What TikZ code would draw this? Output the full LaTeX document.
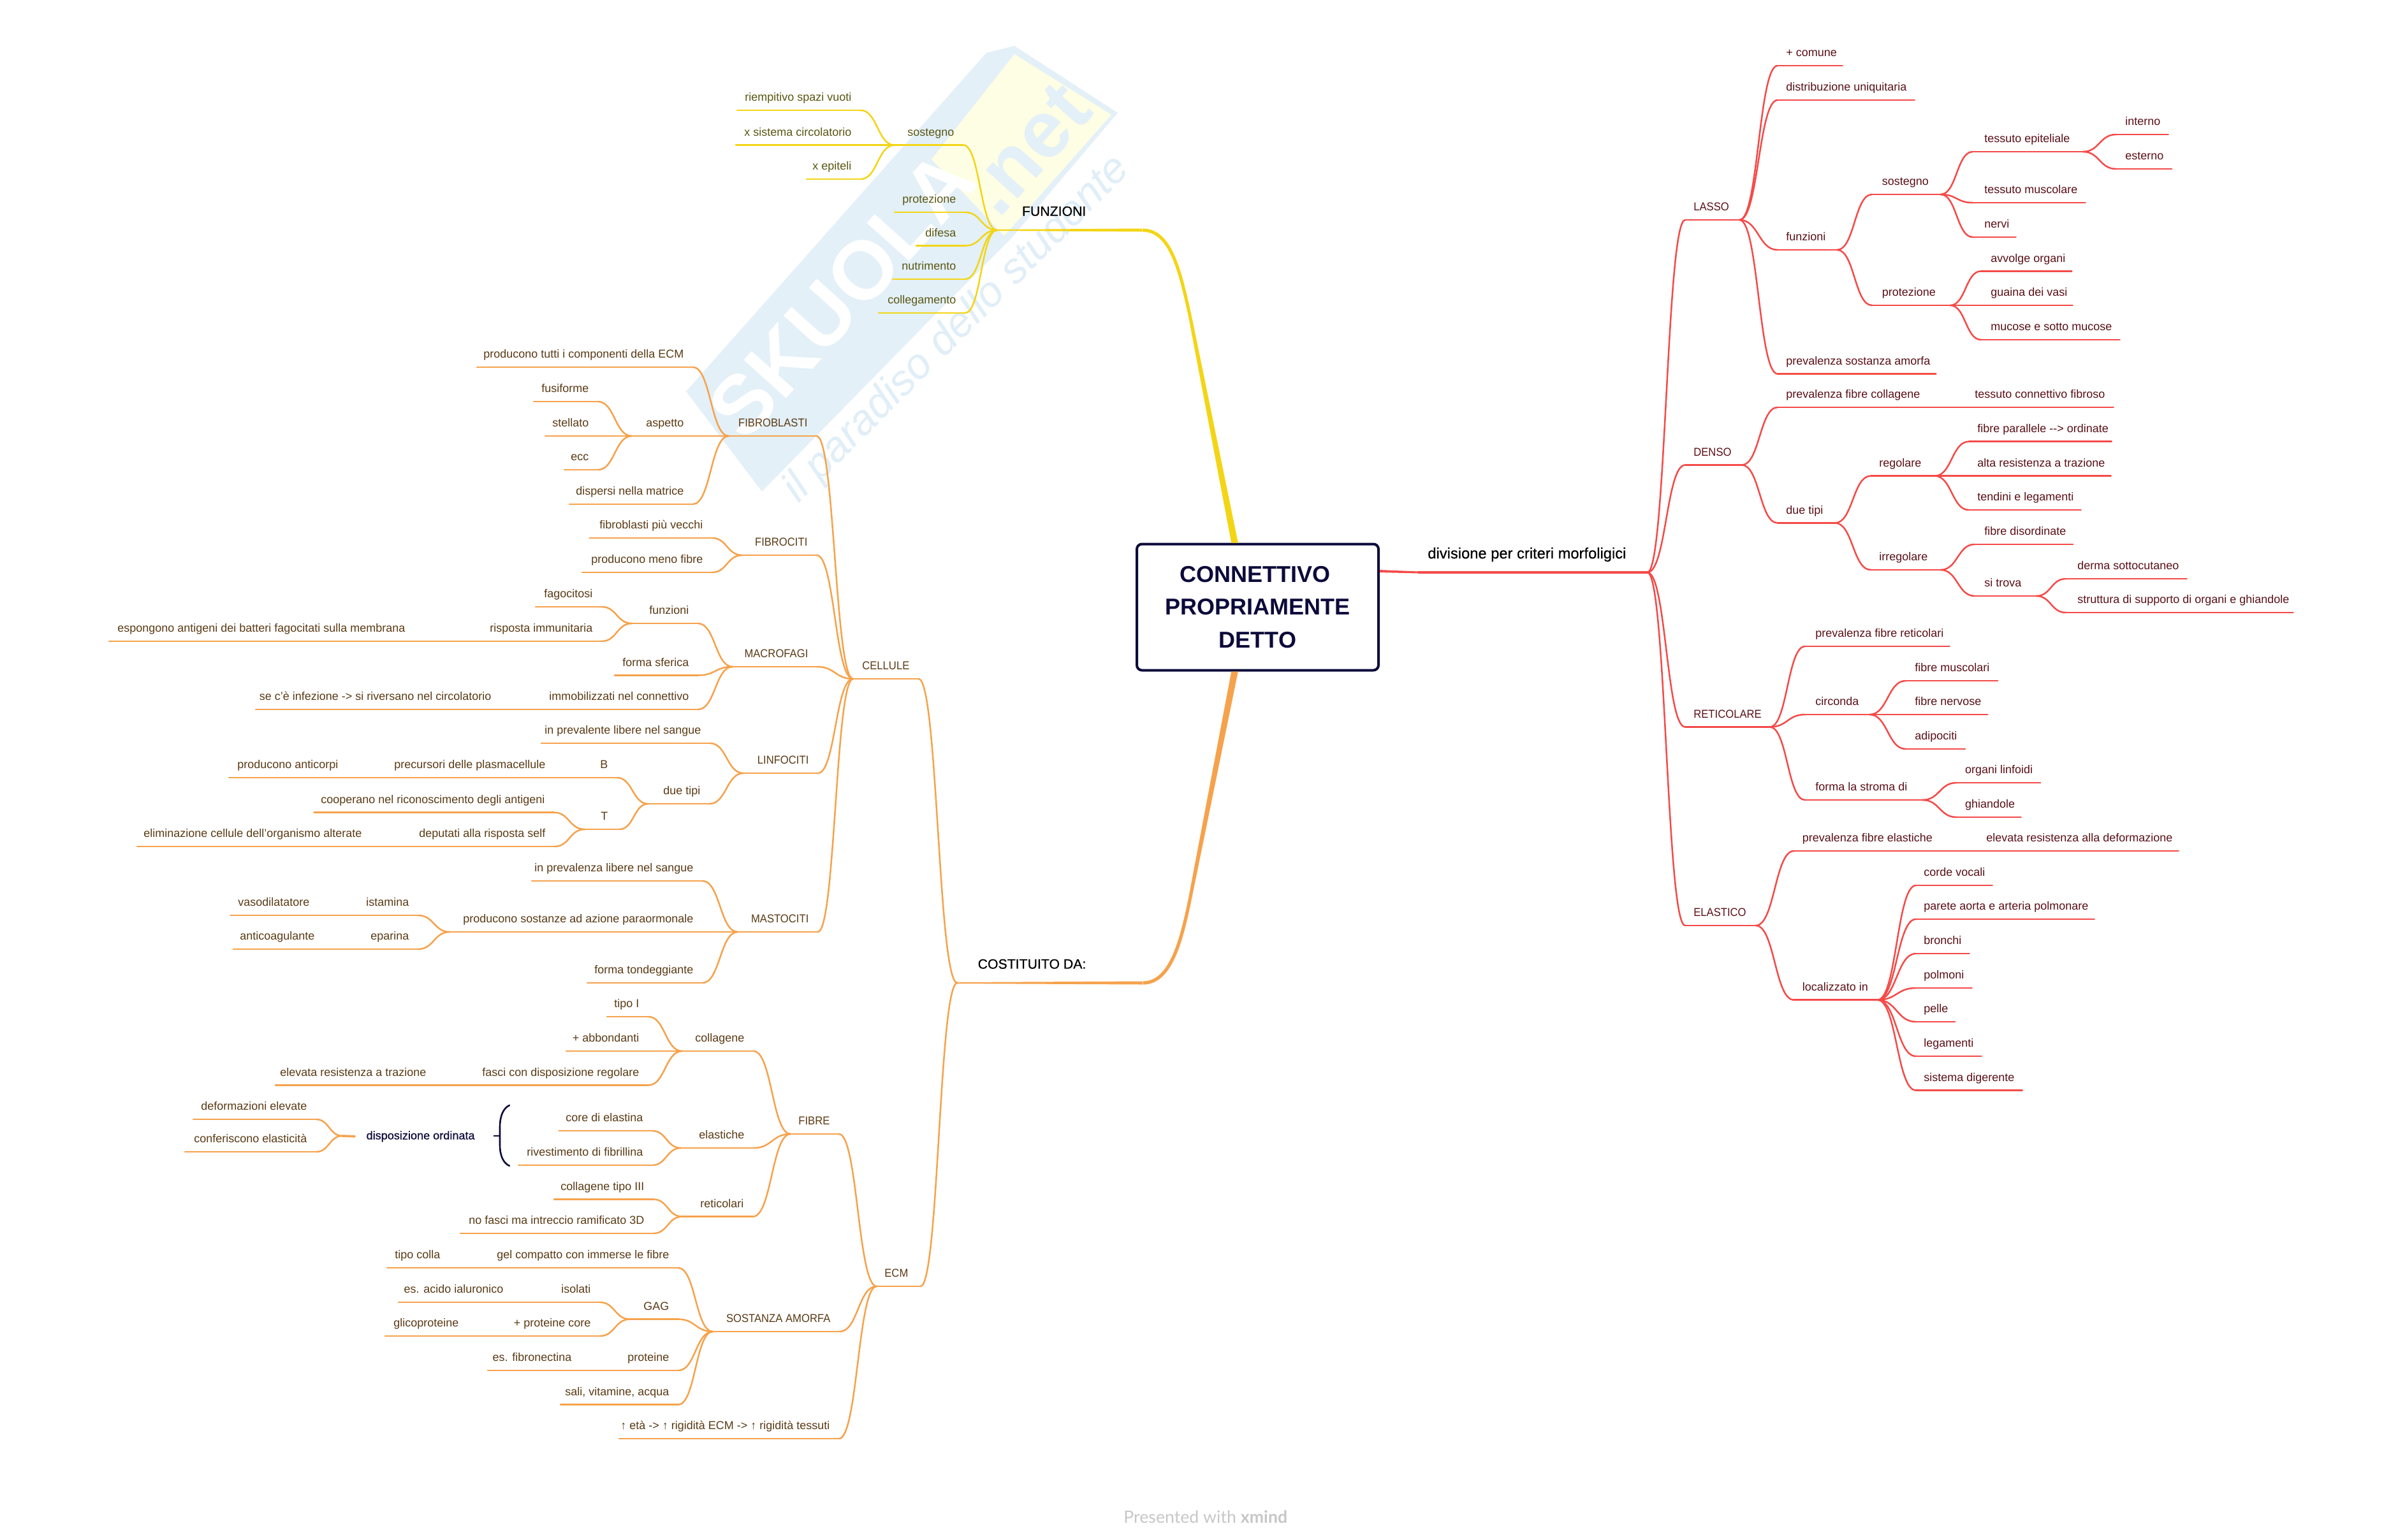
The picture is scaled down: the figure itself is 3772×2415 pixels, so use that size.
\documentclass[tikz,border=0pt]{standalone}
\usepackage{fontspec}
\setmainfont{Liberation Sans}
\newfontfamily\capf[FakeStretch=0.925]{Liberation Sans}
\newfontfamily\medf[FakeBold=0.5]{Liberation Sans}
\newfontfamily\presf{Lato}
\usetikzlibrary{calc}
\definecolor{ylw}{HTML}{F3D516}
\definecolor{ytx}{HTML}{5A5612}
\definecolor{org}{HTML}{F6A24C}
\definecolor{otx}{HTML}{5A3A14}
\definecolor{rdd}{HTML}{F44A48}
\definecolor{rtx}{HTML}{5A0F16}
\definecolor{navy}{HTML}{0C0A3A}
\definecolor{wmb}{HTML}{E3F0F8}
\definecolor{wmy}{HTML}{FEFEE4}
\definecolor{wmt}{HTML}{E0EEF7}
\colorlet{L}{black}\colorlet{T}{black}
\newlength\ux \setlength\ux{0.569pt}
\newlength\tw
\tikzset{
  topic/.style={inner sep=0pt,anchor=south west,text height=14\ux,text depth=14\ux,text=T,
    font=\fontsize{10.24}{12}\selectfont},
  conn/.style={draw=L,line width=2.5\ux,line cap=round},
  maintopic/.style={topic,text height=18\ux,text depth=22\ux,text=black,
    font=\fontsize{12.1}{14}\selectfont\medf},
}
% left-side topic: text right aligned, line from xL to xR at y
\newcommand\TL[6][14]{\pgfmathsetlength\tw{(#4-#3)*0.02cm}%
  \node[topic] (#2) at (#3,#5) {\makebox[\tw][r]{#6\hspace{#1\ux}}};
  \draw[conn] (#2.south west) -- (#2.south east);}
% right-side topic: text left aligned
\newcommand\TR[6][13]{\pgfmathsetlength\tw{(#4-#3)*0.02cm}%
  \node[topic] (#2) at (#3,#5) {\makebox[\tw][l]{\hspace{#1\ux}#6}};
  \draw[conn] (#2.south west) -- (#2.south east);}
\newcommand\link[2]{\draw[conn] let \p1=(#1),\p2=(#2),\n1={0.5*(\x2-\x1)} in
  (\p1) .. controls ({\x1+\n1},\y1) and ({\x2-\n1},\y2) .. (\p2);}
\newcommand\LL[2]{\foreach \cc in {#2} {\link{#1.south west}{\cc.south east}}}
\newcommand\LR[2]{\foreach \cc in {#2} {\link{#1.south east}{\cc.south west}}}
\begin{document}
\begin{tikzpicture}[x=0.02cm,y=-0.02cm]
\useasboundingbox (0,0) rectangle (3772,2415);
\fill[white] (0,0) rectangle (3772,2415);
% watermark
\fill[wmb] (1076,614) -- (1547,83) -- (1591,72) -- (1753,177) -- (1585,375) -- (1470,490) -- (1195,771) -- cycle;
\fill[wmy] (1591,85) -- (1743,180) -- (1575,370) -- (1461,250) -- cycle;
\node[rotate=48,text=white,font=\fontsize{74}{80}\selectfont\bfseries] (wm1) at (1320,462) {SKUOLA};
\node[rotate=48,text=wmb,font=\fontsize{72}{80}\selectfont\bfseries] (wm2) at (1612,234) {.net};
\node[rotate=45,text=wmt,font=\fontsize{38}{44}\selectfont\itshape] (wm3) at (1501,517) {il paradiso dello studente};
% root
\node[draw=navy,line width=4\ux,rounded corners=8\ux,fill=white,text=navy,minimum width=379*0.02cm,minimum height=198*0.02cm,
  align=center,font=\fontsize{20.5}{29.3}\selectfont\bfseries,inner sep=0pt] (root) at (1972.5,952.5) {CONNETTIVO\hspace*{8\ux}\\PROPRIAMENTE\hspace*{8\ux}\\DETTO};

% ===== yellow
\begin{scope}
\colorlet{L}{ylw}\colorlet{T}{ytx}
\node[maintopic] (funz) at (1564,361) {\pgfmathsetlength\tw{(1791-1564)*0.02cm}\makebox[\tw][r]{FUNZIONI\hspace{88\ux}}};
\fill[ylw] (1564,360) -- (1791,358.5) -- (1791,363.5) -- (1564,362) -- cycle;
\draw[conn,line width=5\ux,line cap=butt] (funz.south east) .. controls (1835,361) and (1850,420) .. (1867,499);
\fill[ylw] (1864.5,499.5) -- (1869.5,498.5) -- ([xshift=3pt]$(root.north)+(-36,0)$) -- ([xshift=-3pt]$(root.north)+(-36,0)$) -- cycle;
\TL{ysost}{1403}{1510}{227.6}{sostegno}
\TL{yprot}{1403}{1513}{333}{protezione}
\TL{ydife}{1437}{1513}{385.5}{difesa}
\TL{ynutr}{1400}{1513}{438}{nutrimento}
\TL{ycoll}{1378}{1513}{491}{collegamento}
\TL{yriem}{1156}{1349}{173}{riempitivo spazi vuoti}
\TL{ysist}{1154}{1349}{227.6}{x sistema circolatorio}
\TL{yepit}{1265}{1349}{281}{x epiteli}
\LL{funz}{ysost,yprot,ydife,ynutr,ycoll}
\LL{ysost}{yriem,ysist,yepit}
\end{scope}

% ===== orange
\begin{scope}
\colorlet{L}{org}\colorlet{T}{otx}
\node[maintopic] (cost) at (1501.5,1542) {\pgfmathsetlength\tw{(1792-1501.5)*0.02cm}\makebox[\tw][r]{COSTITUITO DA:\hspace{89\ux}}};
\fill[org] (1501.5,1541) -- (1792,1539.5) -- (1792,1544.5) -- (1501.5,1543) -- cycle;
\draw[conn,line width=5.2\ux,line cap=butt] (cost.south east) .. controls (1835,1542) and (1852,1480) .. (1866,1412);
\fill[org] (1863.5,1411.5) -- (1868.5,1412.5) -- ([xshift=3pt]$(root.south)+(-36,0)$) -- ([xshift=-3pt]$(root.south)+(-36,0)$) -- cycle;
\TL{cell}{1338}{1440}{1065}{\capf CELLULE}
\TL[19]{ecm}{1375}{1443}{2018}{\capf ECM}
\LL{cost}{cell,ecm}
% FIBROBLASTI
\TL{fbl}{1143}{1280}{684}{\capf FIBROBLASTI}
\TL{fb1}{748}{1086}{576}{producono tutti i componenti della ECM}
\TL{fb2}{991}{1086}{684}{aspetto}
\TL{fb3}{893}{1086}{791}{dispersi nella matrice}
\TL{fb21}{837}{937}{630}{fusiforme}
\TL{fb22}{855}{937}{684}{stellato}
\TL{fb23}{885}{937}{737}{ecc}
\LL{fbl}{fb1,fb2,fb3}
\LL{fb2}{fb21,fb22,fb23}
% FIBROCITI
\TL{fcy}{1164}{1280}{871}{\capf FIBROCITI}
\TL{fc1}{924.5}{1116}{844}{fibroblasti più vecchi}
\TL{fc2}{913}{1116}{898}{producono meno fibre}
\LL{fcy}{fc1,fc2}
% MACROFAGI
\TL{mac}{1149}{1281}{1046}{\capf MACROFAGI}
\TL{ma1}{991}{1094}{978}{funzioni}
\TL{ma2}{964}{1094}{1059.5}{forma sferica}
\TL{ma3}{784}{1094}{1113}{immobilizzati nel connettivo}
\TL{ma4}{401}{784}{1113}{se c'è infezione -> si riversano nel circolatorio}
\TL{ma11}{840}{943}{952}{fagocitosi}
\TL{ma12}{649}{943}{1006}{risposta immunitaria}
\TL{ma13}{171}{649}{1006}{espongono antigeni dei batteri fagocitati sulla membrana}
\LL{mac}{ma1,ma2,ma3}
\LL{ma3}{ma4}
\LL{ma1}{ma11,ma12}
\LL{ma12}{ma13}
% LINFOCITI
\TL{lin}{1166}{1282}{1213}{\capf LINFOCITI}
\TL{li1}{849}{1113}{1166}{in prevalente libere nel sangue}
\TL{li2}{1016.5}{1112}{1261}{due tipi}
\TL{liB}{869}{967}{1220}{B}
\TL{liB1}{544}{869}{1220}{precursori delle plasmacellule}
\TL{liB2}{359}{544}{1220}{producono anticorpi}
\TL[18]{liT}{917}{971}{1301}{T}
\TL{liT1}{492.5}{868}{1274.5}{cooperano nel riconoscimento degli antigeni}
\TL{liT2}{581}{869}{1328}{deputati alla risposta self}
\TL{liT3}{215}{581}{1328}{eliminazione cellule dell'organismo alterate}
\LL{lin}{li1,li2}
\LL{li2}{liB,liT}
\LL{liT}{liT1,liT2}
% MASTOCITI
\TL{mst}{1157}{1282}{1462}{\capf MASTOCITI}
\TL{ms1}{834}{1101}{1382}{in prevalenza libere nel sangue}
\TL{ms2}{705.5}{1101}{1462}{producono sostanze ad azione paraormonale}
\TL{ms3}{921}{1101}{1542}{forma tondeggiante}
\TL{ms21}{499}{655}{1436}{istamina}
\TL{ms22}{361.5}{499}{1436}{vasodilatatore}
\TL{ms23}{507}{655}{1489}{eparina}
\TL{ms24}{365.6}{507}{1489}{anticoagulante}
\LL{mst}{ms1,ms2,ms3}
\LL{ms2}{ms21,ms23}
\LL{cell}{fbl,fcy,mac,lin,mst}
% FIBRE
\TL{fib}{1240}{1315}{1779}{\capf FIBRE}
\TL{col}{1070}{1181}{1649}{collagene}
\TL{ela}{1068}{1181}{1801}{elastiche}
\TL{ret}{1070}{1180}{1908.6}{reticolari}
\TL{co1}{952}{1016}{1595}{tipo I}
\TL{co2}{888}{1016}{1649}{+ abbondanti}
\TL{co3}{682}{1016}{1702.5}{fasci con disposizione regolare}
\TL{co4}{432}{682}{1702.5}{elevata resistenza a trazione}
\TL{el1}{876.5}{1022}{1774}{core di elastina}
\TL{el2}{813}{1022}{1828}{rivestimento di fibrillina}
\TL{re1}{869}{1024}{1881.5}{collagene tipo III}
\TL{re2}{722}{1024}{1935}{no fasci ma intreccio ramificato 3D}
\LL{fib}{col,ela,ret}
\LL{col}{co1,co2,co3}
\LL{ela}{el1,el2}
\LL{ret}{re1,re2}
% disposizione ordinata
\node[inner xsep=18\ux,inner ysep=0pt,anchor=base east,text=navy,font=\fontsize{10.3}{12}\selectfont\medf] (disp) at (763,1787.5) {disposizione ordinata};
\coordinate (dispj) at (537,1782);
\draw[conn,line width=3.5\ux] (disp.west) -- (dispj);
\TL{di1}{303}{495}{1756}{deformazioni elevate}
\TL{di2}{290}{495}{1807}{conferiscono elasticità}
\link{dispj}{di1.south east}
\link{dispj}{di2.south east}
\draw[navy,line width=2.6\ux,line cap=round] (799,1734) .. controls (790,1738) and (784,1750) .. (784,1768) -- (784,1796) .. controls (784,1814) and (790,1825) .. (799,1829);
\draw[navy,line width=2.6\ux] (774,1782) -- (784,1782);
% SOSTANZA AMORFA
\TL{sos}{1118}{1316}{2089}{\capf SOSTANZA AMORFA}
\TL{so1}{704}{1063}{1989}{gel compatto con immerse le fibre}
\TL{so1a}{607}{704}{1989}{tipo colla}
\TL{gag}{988}{1063}{2069.6}{GAG}
\TL{is}{803}{940}{2043}{isolati}
\TL{isa}{625}{803}{2043}{es. acido ialuronico}
\TL{pc}{733}{940}{2096}{+ proteine core}
\TL{pca}{604}{733}{2096}{glicoproteine}
\TL{pr}{910}{1063}{2150}{proteine}
\TL{pra}{765}{910}{2150}{es. fibronectina}
\TL{sa}{879}{1063}{2203.6}{sali, vitamine, acqua}
\TL{eta}{971}{1315}{2257}{↑ età -> ↑ rigidità ECM -> ↑ rigidità tessuti}
\LL{sos}{so1,gag,pr,sa}
\LL{gag}{is,pc}
\LL{ecm}{fib,sos,eta}
\end{scope}

% ===== red
\begin{scope}
\colorlet{L}{rdd}\colorlet{T}{rtx}
\node[maintopic,text depth=21.5\ux,font=\fontsize{13.5}{16}\selectfont\medf] (div) at (2225,898) {\pgfmathsetlength\tw{(2583-2225)*0.02cm}\makebox[\tw][l]{\hspace{14\ux}divisione per criteri morfoligici}};
\fill[rdd] ([yshift=31pt]root.east) ++(0,-4) -- (2225,896.5) -- (2225,899.5) -- ([yshift=31pt]root.east) ++(0,4) -- cycle;
\draw[conn,line width=3.2\ux] (div.south west) -- (div.south east);
\TR{las}{2643}{2727.5}{345}{\capf LASSO}
\TR{den}{2643}{2731}{729.5}{\capf DENSO}
\TR{rtc}{2643}{2775}{1140.5}{\capf RETICOLARE}
\TR{est}{2643}{2753}{1452}{\capf ELASTICO}
\LR{div}{las,den,rtc,est}
% LASSO
\TR{l1}{2788}{2889}{103}{+ comune}
\TR{l2}{2788}{3002}{157}{distribuzione uniquitaria}
\TR{l3}{2788}{2880.6}{392}{funzioni}
\TR{l4}{2788}{3035.6}{586.6}{prevalenza sostanza amorfa}
\TR[15.5]{l31}{2936}{3043}{305}{sostegno}
\TR[15.5]{l32}{2936}{3058}{479}{protezione}
\TR[18]{l311}{3094}{3266}{238}{tessuto epiteliale}
\TR[18]{l312}{3094}{3270}{318}{tessuto muscolare}
\TR[18]{l313}{3094}{3161}{372}{nervi}
\TR[14]{l3111}{3319}{3400}{211}{interno}
\TR[14]{l3112}{3319}{3405.5}{265}{esterno}
\TR[15]{l321}{3107}{3248.6}{425.4}{avvolge organi}
\TR[15]{l322}{3107}{3250}{479}{guaina dei vasi}
\TR[15]{l323}{3107}{3324}{533}{mucose e sotto mucose}
\LR{las}{l1,l2,l3,l4}
\LR{l3}{l31,l32}
\LR{l31}{l311,l312,l313}
\LR{l311}{l3111,l3112}
\LR{l32}{l321,l322,l323}
% DENSO
\TR{d1}{2788}{3018}{639}{prevalenza fibre collagene}
\TR{d1a}{3084}{3314}{639}{tessuto connettivo fibroso}
\TR{d2}{2788}{2877.4}{820.4}{due tipi}
\TR{d21}{2934}{3033.7}{746.6}{regolare}
\TR{d22}{2934}{3043}{894}{irregolare}
\TR{d211}{3088}{3311}{692.7}{fibre parallele -{}-{}> ordinate}
\TR{d212}{3088}{3310}{746.6}{alta resistenza a trazione}
\TR{d213}{3088}{3263}{800}{tendini e legamenti}
\TR[15]{d221}{3097}{3250.5}{854}{fibre disordinate}
\TR[15]{d222}{3097}{3193}{935}{si trova}
\TR[18]{d2221}{3240}{3429}{908}{derma sottocutaneo}
\TR[18]{d2222}{3240}{3596}{961}{struttura di supporto di organi e ghiandole}
\LR{den}{d1,d2}
\LR{d1}{d1a}
\LR{d2}{d21,d22}
\LR{d21}{d211,d212,d213}
\LR{d22}{d221,d222}
\LR{d222}{d2221,d2222}
% RETICOLARE
\TR[16]{r1}{2831}{3057}{1014}{prevalenza fibre reticolari}
\TR[16]{r2}{2831}{2931.6}{1121}{circonda}
\TR[16]{r3}{2831}{3014.5}{1255}{forma la stroma di}
\TR[14]{r21}{2989}{3132.5}{1068}{fibre muscolari}
\TR[14]{r22}{2989}{3116.6}{1121}{fibre nervose}
\TR[14]{r23}{2989}{3081.5}{1175}{adipociti}
\TR{r31}{3068.7}{3199.5}{1228}{organi linfoidi}
\TR{r32}{3068.7}{3169}{1282}{ghiandole}
\LR{rtc}{r1,r2,r3}
\LR{r2}{r21,r22,r23}
\LR{r3}{r31,r32}
% ELASTICO
\TR{e1}{2813.6}{3040}{1335}{prevalenza fibre elastiche}
\TR{e1a}{3102}{3416}{1335}{elevata resistenza alla deformazione}
\TR{e2}{2813.6}{2944}{1568.7}{localizzato in}
\TR[12]{e21}{3005}{3124}{1389}{corde vocali}
\TR[12]{e22}{3005}{3284}{1442}{parete aorta e arteria polmonare}
\TR[12]{e23}{3005}{3088}{1496}{bronchi}
\TR[12]{e24}{3005}{3092}{1550}{polmoni}
\TR[12]{e25}{3005}{3065.6}{1603}{pelle}
\TR[12]{e26}{3005}{3107}{1657}{legamenti}
\TR[12]{e27}{3005}{3171}{1710.5}{sistema digerente}
\LR{est}{e1,e2}
\LR{e1}{e1a}
\LR{e2}{e21,e22,e23,e24,e25,e26,e27}
\end{scope}
% footer
\node[anchor=base west,inner sep=0pt,text=black!22,font=\fontsize{15.2}{18}\selectfont\presf] (pres) at (1762,2389) {Presented with \textbf{xmind}};
\end{tikzpicture}
\end{document}
